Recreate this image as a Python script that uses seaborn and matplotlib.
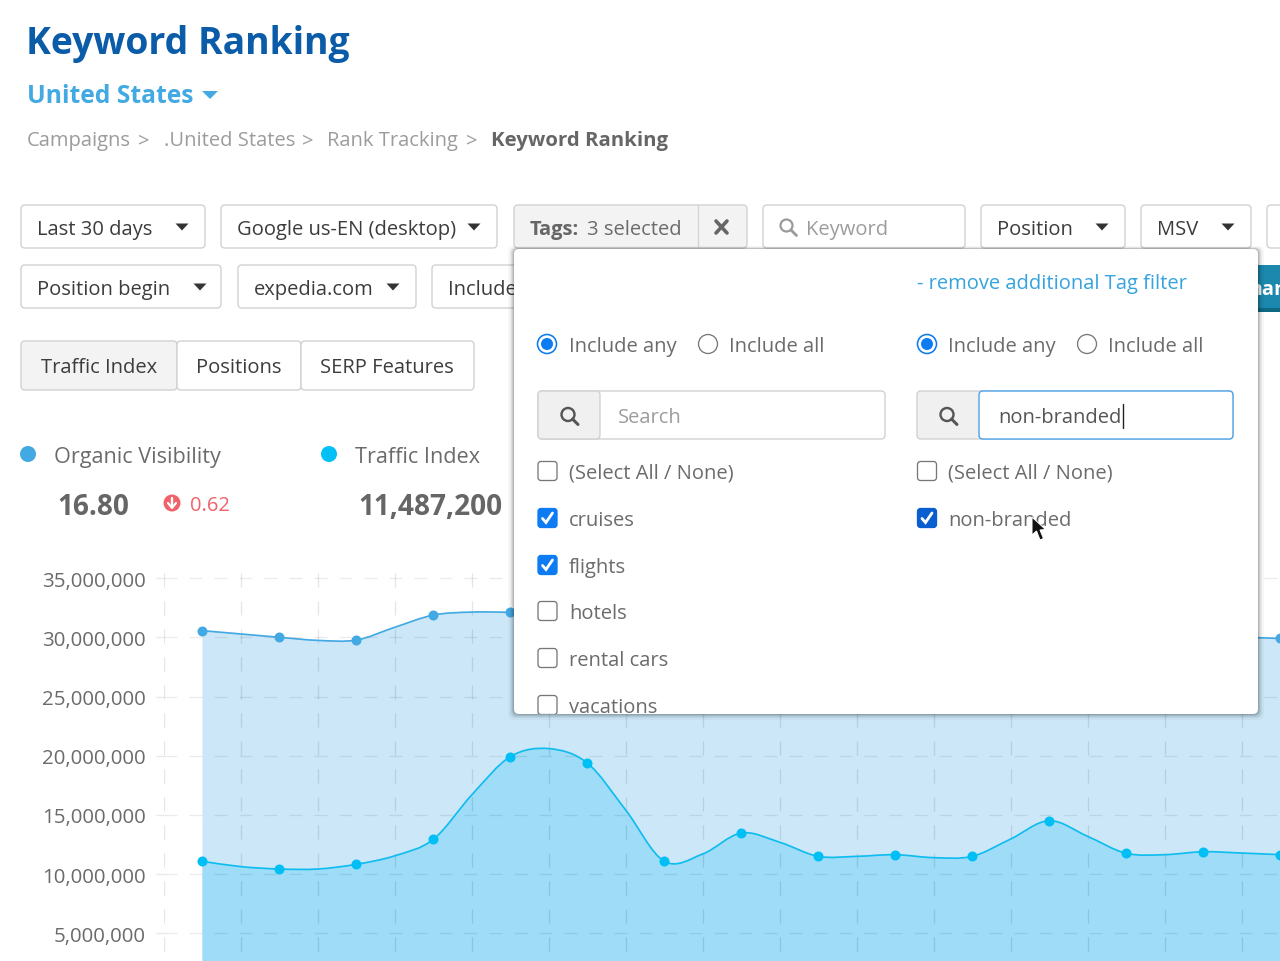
import itertools
import numpy as np
import pandas as pd
import seaborn as sns
import matplotlib
matplotlib.use("Agg")
import matplotlib.pyplot as plt
from matplotlib.path import Path
from matplotlib.patches import PathPatch, FancyBboxPatch, Circle, Polygon

# ---- chart data (millions), read at half-step positions; whole steps carry markers
steps = [i / 2 for i in range(29)]
organic_visibility = [30.56, 30.28, 30.00, 29.74, 29.77, 30.85, 31.88, 32.13, 32.10, 31.9, 31.6, 31.3,
                      31.1, 30.9, 30.8, 30.7, 30.7, 30.6, 30.6, 30.5, 30.5, 30.4, 30.4, 30.3,
                      30.2, 30.1, 30.0, 30.0, 29.90]
traffic_index = [11.08, 10.63, 10.43, 10.43, 10.83, 11.55, 12.94, 16.70, 19.92, 20.60, 19.38, 15.40,
                 11.08, 11.70, 13.47, 12.69, 11.50, 11.50, 11.64, 11.39, 11.50, 12.96, 14.51, 13.19,
                 11.76, 11.64, 11.89, 11.78, 11.64]
y_ticks = [5, 10, 15, 20, 25, 30, 35]
y_tick_labels = ["5,000,000", "10,000,000", "15,000,000", "20,000,000", "25,000,000", "30,000,000", "35,000,000"]
x_grid = [i - 0.5 for i in range(15)]

# ---- UI text
title = "Keyword Ranking"
region = "United States"
crumbs = ["Campaigns", ".United States", "Rank Tracking"]
tags_left = ["(Select All / None)", "cruises", "flights", "hotels", "rental cars", "vacations"]
tags_left_checked = [False, True, True, False, False, False]

sns.set_theme(style="white")
plt.rcParams["font.family"] = ["Open Sans", "DejaVu Sans"]
plt.rcParams["lines.scale_dashes"] = False

PX = 0.72
BODY = 20.2
fig = plt.figure(figsize=(12.8, 9.62), dpi=100, facecolor="white")

# ---- chart axes
ax = fig.add_axes([164 / 1280, 0, (1280 - 164) / 1280, (962 - 560) / 962])
ax.set_xlim(-0.5, 14.0)
ax.set_ylim(5 - (962 - 934.3) / 11.84, 5 + (934.3 - 560) / 11.84)
df = pd.DataFrame({"step": steps, "organic": organic_visibility, "traffic": traffic_index})
markers = df[df["step"] % 1 == 0]


def smooth_path(xs, ys, base=None):
    xs, ys = np.asarray(xs, float), np.asarray(ys, float)
    n = len(xs)
    verts = [(xs[0], ys[0])]
    codes = [Path.MOVETO]
    for i in range(n - 1):
        a, d = max(i - 1, 0), min(i + 2, n - 1)
        verts += [(xs[i] + (xs[i + 1] - xs[a]) / 6, ys[i] + (ys[i + 1] - ys[a]) / 6),
                  (xs[i + 1] - (xs[d] - xs[i]) / 6, ys[i + 1] - (ys[d] - ys[i]) / 6),
                  (xs[i + 1], ys[i + 1])]
        codes += [Path.CURVE4] * 3
    if base is not None:
        verts += [(xs[-1], base), (xs[0], base), (xs[0], ys[0])]
        codes += [Path.LINETO, Path.LINETO, Path.CLOSEPOLY]
    return Path(verts, codes)


ymin = ax.get_ylim()[0]
for col, fill, line, dot in [("organic", "#cce7f8", "#43a9e2", "#43a9e2"), ("traffic", "#9edcf7", "#0fbcf0", "#00bff5")]:
    ax.add_patch(PathPatch(smooth_path(df["step"], df[col], ymin), facecolor=fill, edgecolor="none", zorder=1))
    ax.add_patch(PathPatch(smooth_path(df["step"], df[col]), facecolor="none", edgecolor=line,
                           linewidth=1.7 * PX, zorder=3))
    sns.scatterplot(data=markers, x="step", y=col, ax=ax, color=dot, s=52, linewidth=0, zorder=4, clip_on=False)

ax.set_yticks(y_ticks, y_tick_labels)
ax.set_xticks(x_grid, [""] * len(x_grid))
ax.set_xlabel("")
ax.set_ylabel("")
ax.set_axisbelow(False)
ax.grid(axis="y", color="black", alpha=0.08, linewidth=1.3 * PX, linestyle=(0, (13 * PX, 12 * PX)))
ax.grid(axis="x", color="black", alpha=0.10, linewidth=1.3 * PX, linestyle=(18 * PX, (14 * PX, 14 * PX)))
ax.tick_params(axis="y", length=8 * PX, width=1.3 * PX, color="#e8e8e8", pad=10 * PX,
               labelsize=20.5 * PX, labelcolor="#6b6b6b", left=True)
ax.tick_params(axis="x", length=0)
for lab in ax.get_yticklabels():
    lab.set_va("center_baseline")
for s in ax.spines.values():
    s.set_visible(False)
ax.patch.set_alpha(0)

# ---- UI overlay, in pixel coordinates
ui = fig.add_axes([0, 0, 1, 1], zorder=5)
ui.set_xlim(0, 1280)
ui.set_ylim(962, 0)
ui.axis("off")
ui.patch.set_alpha(0)
z = itertools.count(10)


def T(x, y, s, size=BODY, color="#3c3c3c", weight="normal", ha="left", clip=None):
    t = ui.text(x - 0.2, y - 0.5, s, fontsize=size * PX, color=color, fontweight=weight, ha=ha,
                va="center_baseline", zorder=next(z))
    if clip is not None:
        t.set_clip_path(clip)
    return t


def box(x0, y0, x1, y1, fc="white", ec="#d2d2d2", r=4, lw=1.4, alpha=None, clip=None):
    p = FancyBboxPatch((x0, y0), x1 - x0, y1 - y0, boxstyle=f"round,pad=0,rounding_size={r}",
                       fc=fc, ec=ec, lw=lw * PX, alpha=alpha, zorder=next(z))
    ui.add_patch(p)
    if clip is not None:
        p.set_clip_path(clip)
    return p


def caret(x, y, w=6.5, h=7, c="#333333"):
    ui.add_patch(Polygon([(x - w, y - h / 2), (x + w, y - h / 2), (x, y + h / 2)], closed=True, fc=c, ec="none",
                         zorder=next(z)))


def glass(x, y, c, r=6.5, lw=2.2):
    ui.add_patch(Circle((x - 1.5, y - 1.5), r, fc="none", ec=c, lw=lw * PX, zorder=next(z)))
    ui.plot([x + 3, x + 8.5], [y + 3, y + 8.5], color=c, lw=(lw + 0.6) * PX, solid_capstyle="round", zorder=next(z))


# header
T(26.5, 40, title, 37.4, "#0a5ca8", "bold")
T(27, 94, region, 24.6, "#43a9e2", "bold")
caret(210, 96, 8, 8, "#43a9e2")
for x, s in zip([27, 164.5, 327], crumbs):
    T(x, 139, s, BODY, "#9c9c9c")
for x in [144, 308, 472]:
    T(x, 139, ">", BODY, "#9c9c9c", ha="center")
T(491, 139, title, 20.4, "#666666", "bold")

# filter row 1
for x0, x1, s, cx in [(21, 205, "Last 30 days", 182), (221, 497, "Google us-EN (desktop)", 474),
                      (981, 1125, "Position", 1102), (1141, 1251, "MSV", 1228)]:
    box(x0, 206, x1, 249)
    T(x0 + 16, 228, s)
    caret(cx, 228)
box(514, 206, 747, 249, fc="#f3f3f3")
ui.plot([698, 698], [207, 248], color="#d2d2d2", lw=1.2 * PX, zorder=next(z))
T(530, 228, "Tags:", BODY, "#666666", "bold")
T(587, 228, "3 selected", BODY, "#6b6b6b")
ui.plot([716, 727], [222, 234], color="#666666", lw=3.6 * PX, zorder=next(z))
ui.plot([716, 727], [234, 222], color="#666666", lw=3.6 * PX, zorder=next(z))
box(763, 206, 965, 249)
glass(788, 228, "#9a9a9a", 6, 2.2)
T(806, 228, "Keyword", BODY, "#9c9c9c")
box(1267, 206, 1300, 249)

# filter row 2
for x0, x1, s, cx in [(21, 221, "Position begin", 200), (238, 416, "expedia.com", 393)]:
    box(x0, 266, x1, 309)
    T(x0 + 16, 288, s)
    caret(cx, 288)
box(432, 266, 600, 309)
T(448, 288, "Include", BODY)
box(1230, 266, 1300, 313, fc="#0e6a82", ec="none", lw=0)
box(1230, 266, 1300, 309, fc="#1c88ad", ec="none", lw=0)
T(1243, 288, "mar", BODY, "white", "bold")

# tabs
box(21, 342, 177, 391, fc="#f3f3f3")
box(177, 342, 301, 391)
box(301, 342, 474, 391)
T(99, 366, "Traffic Index", BODY, ha="center")
T(239, 366, "Positions", BODY, ha="center")
T(387.5, 366, "SERP Features", BODY, ha="center")

# legend and figures
ui.add_patch(Circle((28, 455), 8, fc="#43a9e2", ec="none", zorder=next(z)))
T(54, 455.7, "Organic Visibility", 21.7, "#6b6b6b")
ui.add_patch(Circle((329, 455), 8, fc="#00c0f5", ec="none", zorder=next(z)))
T(355, 455.7, "Traffic Index", 21.7, "#6b6b6b")
T(58, 504.5, "16.80", 28, "#666666", "bold")
T(359, 504.5, "11,487,200", 28, "#666666", "bold")
ui.add_patch(Circle((172, 504), 8.5, fc="#f0616a", ec="none", zorder=next(z)))
ui.plot([172, 172], [499, 508], color="white", lw=2.4 * PX, zorder=next(z))
ui.plot([168, 172, 176], [504, 509, 504], color="white", lw=2.2 * PX, zorder=next(z))
T(190.5, 504, "0.62", BODY, "#f0616a")

# popup
for grow, a in [(6, 0.03), (4, 0.05), (3, 0.06), (2, 0.08), (1, 0.10)]:
    box(514 - grow, 250 - grow / 2, 1258 + grow, 715 + grow, fc="black", ec="none", lw=0, r=6, alpha=a)
popup = box(514, 250, 1258, 715, fc="white", ec="none", lw=0, r=5)
T(917, 282, "- remove additional Tag filter", BODY, "#35a3df")

for cx, tx, on, s in [(547, 569, True, "Include any"), (708, 729, False, "Include all"),
                      (927, 948, True, "Include any"), (1087, 1108, False, "Include all")]:
    if on:
        ui.add_patch(Circle((cx, 345), 9.5, fc="white", ec="#0d7bf2", lw=1.6 * PX, zorder=next(z)))
        ui.add_patch(Circle((cx, 345), 6, fc="#0d7bf2", ec="none", zorder=next(z)))
    else:
        ui.add_patch(Circle((cx, 345), 9.5, fc="white", ec="#777777", lw=1.3 * PX, zorder=next(z)))
    T(tx, 345, s, BODY, "#6b6b6b")

# search boxes
box(538, 392, 885, 440)
box(538, 392, 600, 440, fc="#f0f0f0", ec="#d2d2d2")
box(917, 392, 1233, 440, fc="#f0f0f0", ec="#d2d2d2")
glass(569.5, 417, "#555555", 6.5, 2.4)
glass(948.5, 417, "#555555", 6.5, 2.4)
T(618, 416, "Search", BODY, "#9c9c9c")
box(979, 392, 1233, 440, ec="#4da3e8")
T(998, 416, "non-branded", BODY, "#555555")
ui.plot([1123, 1123], [405, 429], color="#222222", lw=1.4 * PX, zorder=next(z))


def checkbox(x, y, checked, fc="#0d7bf2"):
    box(x, y - 9.5, x + 19, y + 9.5, fc=fc if checked else "white", ec=fc if checked else "#777777",
        r=3, lw=1.3, clip=popup)
    if checked:
        ui.plot([x + 4.5, x + 8, x + 14.5], [y + 0.5, y + 4.5, y - 5], color="white", lw=2.8 * PX,
                solid_joinstyle="miter", zorder=next(z))


for y, s, chk in zip([472, 519, 566, 612, 659, 706], tags_left, tags_left_checked):
    checkbox(538, y, chk)
    T(569, y, s, BODY, "#6b6b6b", clip=popup)
checkbox(917.5, 472, False)
T(948, 472, tags_left[0], BODY, "#6b6b6b")
checkbox(917.5, 519, True, "#0a5fd0")
T(948, 519, "non-branded", BODY, "#6b6b6b")

# mouse pointer
ui.add_patch(Polygon([(1032, 518), (1032, 536), (1036.5, 532), (1040, 541), (1043.5, 539.5), (1040, 531), (1045.5, 530.5)],
                     closed=True, fc="#111111", ec="white", lw=1.0 * PX, zorder=next(z)))

fig.savefig("out.png", dpi=100, facecolor="white")
